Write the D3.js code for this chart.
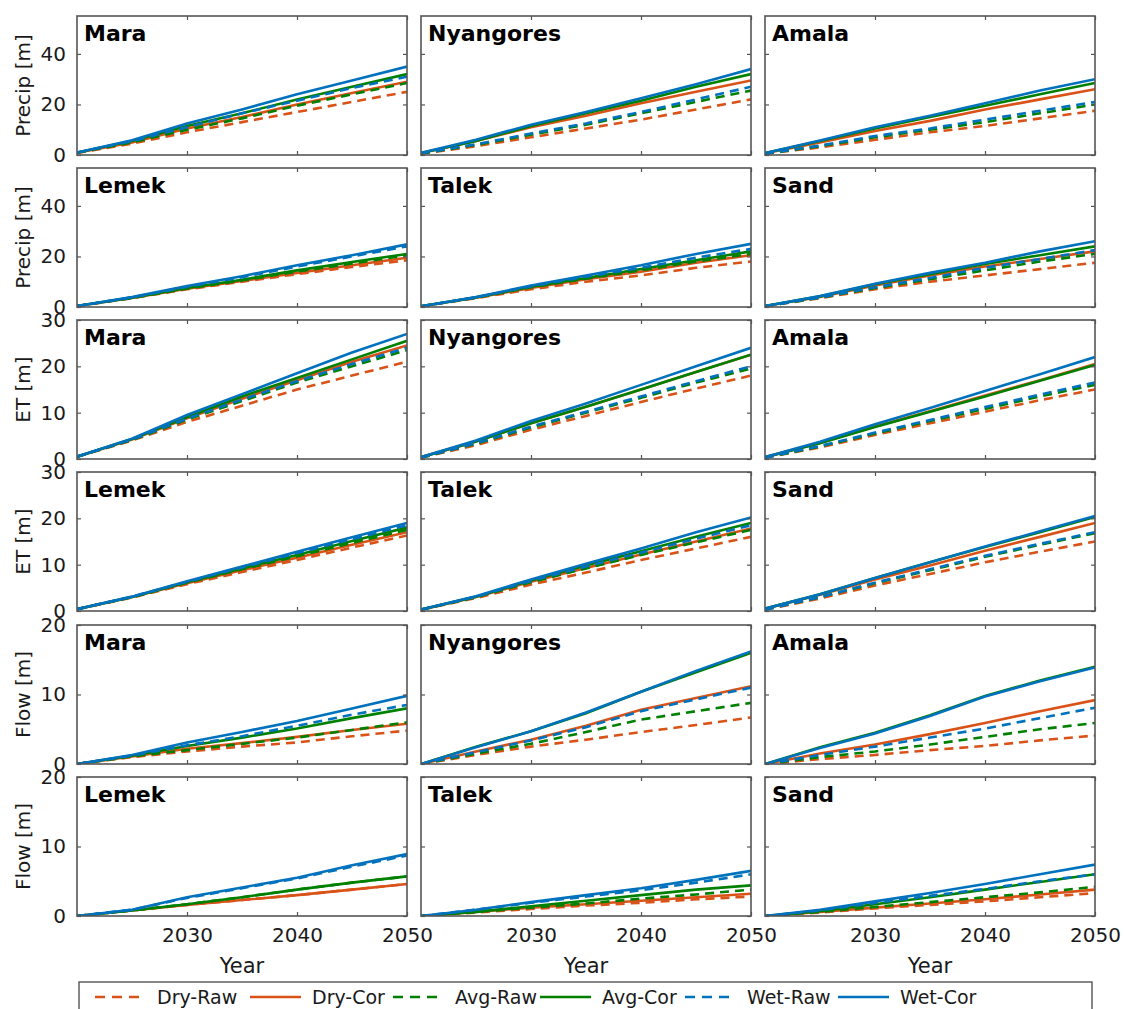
<!DOCTYPE html>
<html><head><meta charset="utf-8">
<script src="https://cdn.jsdelivr.net/npm/d3@7"></script>
<style>body{margin:0;background:#fff} text{font-family:"DejaVu Sans",sans-serif}</style>
</head><body><svg id="c" width="1124" height="1009"></svg>
<script>
// ---------- data ----------
const years = [2020, 2025, 2030, 2035, 2040, 2045, 2050];
const seriesNames = ["Dry-Raw", "Dry-Cor", "Avg-Raw", "Avg-Cor", "Wet-Raw", "Wet-Cor"];
const xTicks = [2030, 2040, 2050];
const precipTicks = [0, 20, 40];
const etTicks = [0, 10, 20, 30];
const flowTicks = [0, 10, 20];
const basinsTop = ["Mara", "Nyangores", "Amala"];
const basinsBottom = ["Lemek", "Talek", "Sand"];
const rowLabels = ["Precip [m]", "Precip [m]", "ET [m]", "ET [m]", "Flow [m]", "Flow [m]"];

// each panel: [Dry-Raw, Dry-Cor, Avg-Raw, Avg-Cor, Wet-Raw, Wet-Cor]
const precipMara = [
  [0.8, 4.5, 9, 13, 17, 21, 25],
  [0.9, 5, 10.5, 15, 20, 24.5, 29],
  [0.9, 5, 10, 14.5, 19.5, 24, 28.5],
  [1, 5.5, 11.5, 16.5, 22, 27, 32],
  [1, 5.5, 11, 16.5, 21.5, 26.5, 31],
  [1, 5.8, 12.5, 18, 24, 29.5, 35]];
const precipNyangores = [
  [0.5, 3.5, 7, 10.5, 14, 18, 22],
  [0.8, 5.5, 11, 15.5, 20.5, 25, 29.5],
  [0.6, 4, 8, 12, 16.5, 21, 25.5],
  [0.8, 5.5, 11.5, 16.5, 21.5, 27, 32],
  [0.7, 4.2, 8.5, 12.5, 17, 22, 27],
  [0.9, 6, 12, 17, 22.5, 28, 34]];
const precipAmala = [
  [0.5, 3, 6, 9, 11.5, 14.5, 17.5],
  [0.7, 5, 9.5, 13.5, 18, 22, 26],
  [0.5, 3.5, 7, 10, 13, 16.5, 20],
  [0.8, 5.5, 10.5, 15, 19.5, 24, 28.5],
  [0.6, 3.7, 7.5, 10.5, 14, 17.5, 21],
  [0.8, 5.7, 11, 15.5, 20.5, 25.5, 30]];
const precipLemek = [
  [0.4, 3.5, 7, 10, 13, 15.8, 18.5],
  [0.4, 3.6, 7.2, 10.3, 13.5, 16.5, 19.5],
  [0.4, 3.6, 7.3, 10.5, 14, 17.2, 20.5],
  [0.4, 3.7, 7.5, 10.8, 14.5, 17.8, 21],
  [0.4, 3.8, 8, 11.8, 16, 20, 24],
  [0.4, 3.9, 8.3, 12.2, 16.5, 20.5, 24.8]];
const precipTalek = [
  [0.3, 3.5, 7, 10, 12.5, 15.5, 18],
  [0.3, 3.7, 7.5, 11, 14, 17.5, 20.5],
  [0.3, 3.7, 7.8, 11.2, 14.5, 18, 21],
  [0.3, 3.8, 8, 11.5, 15, 18.5, 22],
  [0.3, 3.8, 8.2, 12, 15.5, 19.5, 23],
  [0.3, 3.9, 8.5, 12.5, 16.5, 21, 25]];
const precipSand = [
  [0.3, 3.5, 7, 10, 12.5, 15, 17.5],
  [0.4, 4, 8.5, 12.5, 16, 19, 22],
  [0.3, 3.7, 7.5, 11, 14.5, 18, 21],
  [0.4, 4.2, 9, 13, 17, 20.5, 24],
  [0.3, 3.8, 7.8, 11.5, 15.5, 19, 22.5],
  [0.4, 4.3, 9.2, 13.5, 17.5, 22, 26]];
const etMara = [
  [0.5, 4, 8, 11.5, 15, 18, 21],
  [0.5, 4.2, 8.8, 13, 17, 21, 24.5],
  [0.5, 4.1, 8.5, 12.5, 16.5, 20, 23.5],
  [0.5, 4.3, 9, 13.5, 17.5, 21.5, 25.5],
  [0.5, 4.2, 8.7, 12.8, 16.8, 20.5, 24],
  [0.5, 4.4, 9.5, 14, 18.5, 23, 27]];
const etNyangores = [
  [0.3, 3, 6.3, 9.3, 12.3, 15.2, 18],
  [0.4, 3.8, 7.7, 11.3, 15, 18.8, 22.5],
  [0.3, 3.3, 6.8, 10, 13.2, 16.5, 19.5],
  [0.4, 3.8, 7.7, 11.3, 15, 18.8, 22.5],
  [0.3, 3.4, 7, 10.2, 13.5, 16.8, 20],
  [0.4, 4, 8.2, 12, 16, 20, 24]];
const etAmala = [
  [0.3, 2.5, 5.2, 7.7, 10.2, 12.7, 15],
  [0.4, 3.5, 7, 10.3, 13.7, 17, 20.5],
  [0.3, 2.7, 5.5, 8.2, 10.8, 13.5, 16],
  [0.4, 3.4, 6.9, 10.2, 13.5, 16.9, 20.3],
  [0.3, 2.8, 5.7, 8.4, 11.2, 13.9, 16.5],
  [0.4, 3.7, 7.5, 11, 14.7, 18.3, 22]];
const etLemek = [
  [0.4, 2.9, 5.8, 8.4, 11, 13.7, 16.3],
  [0.4, 3, 6, 8.8, 11.5, 14.3, 17],
  [0.4, 3, 6.1, 9, 11.8, 14.7, 17.5],
  [0.4, 3, 6.2, 9.2, 12.1, 15.1, 18],
  [0.4, 3.1, 6.3, 9.4, 12.5, 15.5, 18.5],
  [0.4, 3.1, 6.4, 9.6, 12.8, 15.9, 19]];
const etTalek = [
  [0.3, 2.8, 5.7, 8.3, 11, 13.5, 16],
  [0.3, 3, 6.3, 9.3, 12.2, 15, 17.8],
  [0.3, 3, 6.2, 9.2, 12.1, 14.8, 17.5],
  [0.3, 3.1, 6.6, 9.8, 12.9, 16, 19],
  [0.3, 3.1, 6.5, 9.6, 12.6, 15.6, 18.5],
  [0.3, 3.2, 6.8, 10.2, 13.5, 17, 20.2]];
const etSand = [
  [0.3, 2.7, 5.5, 8, 10.5, 12.8, 15],
  [0.5, 3.5, 6.8, 9.8, 13, 16, 19],
  [0.3, 3, 6, 8.8, 11.7, 14.3, 16.8],
  [0.5, 3.6, 7.1, 10.5, 13.8, 17, 20.3],
  [0.3, 3, 6.1, 9, 11.9, 14.5, 17],
  [0.5, 3.6, 7.1, 10.5, 13.9, 17.2, 20.5]];
const flowMara = [
  [0, 1, 1.8, 2.5, 3.1, 4, 4.8],
  [0, 1.1, 2.2, 3, 3.9, 4.9, 5.8],
  [0, 1.1, 2, 2.9, 3.8, 4.9, 6],
  [0, 1.2, 2.6, 3.8, 5.1, 6.6, 8],
  [0, 1.2, 2.7, 4, 5.5, 7.1, 8.5],
  [0, 1.3, 3.1, 4.6, 6.2, 8, 9.8]];
const flowNyangores = [
  [0, 1.3, 2.5, 3.5, 4.6, 5.6, 6.7],
  [0, 1.8, 3.5, 5.5, 7.8, 9.5, 11.2],
  [0, 1.5, 2.9, 4.6, 6.4, 7.6, 8.8],
  [0, 2.5, 4.7, 7.3, 10.4, 13.2, 16],
  [0, 1.7, 3.4, 5.3, 7.6, 9.3, 11],
  [0, 2.4, 4.7, 7.4, 10.4, 13.4, 16.2]];
const flowAmala = [
  [0, 0.7, 1.3, 2, 2.6, 3.4, 4.1],
  [0, 1.5, 2.8, 4.3, 5.9, 7.6, 9.2],
  [0, 1, 1.8, 2.8, 3.9, 5, 5.9],
  [0, 2.4, 4.5, 7, 9.8, 12, 14],
  [0, 1.3, 2.5, 3.8, 5.1, 6.6, 8.1],
  [0, 2.3, 4.4, 6.9, 9.7, 11.9, 13.9]];
const flowLemek = [
  [0, 0.8, 1.6, 2.3, 3, 3.8, 4.6],
  [0, 0.8, 1.6, 2.3, 3, 3.8, 4.6],
  [0, 0.8, 1.7, 2.7, 3.8, 4.8, 5.7],
  [0, 0.8, 1.7, 2.7, 3.8, 4.8, 5.7],
  [0, 0.9, 2.6, 4, 5.4, 7.1, 8.7],
  [0, 0.9, 2.7, 4.1, 5.5, 7.3, 8.9]];
const flowTalek = [
  [0, 0.5, 1, 1.5, 1.9, 2.4, 2.8],
  [0, 0.6, 1.2, 1.7, 2.2, 2.7, 3.2],
  [0, 0.6, 1.2, 1.8, 2.5, 3.1, 3.8],
  [0, 0.6, 1.4, 2.2, 3, 3.8, 4.4],
  [0, 0.9, 1.9, 2.8, 3.7, 4.8, 6],
  [0, 0.9, 2, 3, 4, 5.2, 6.5]];
const flowSand = [
  [0, 0.5, 1.1, 1.6, 2.1, 2.7, 3.3],
  [0, 0.6, 1.2, 1.8, 2.4, 3.1, 3.8],
  [0, 0.6, 1.3, 2, 2.7, 3.4, 4.2],
  [0, 0.7, 1.7, 2.7, 3.8, 4.9, 6],
  [0, 0.8, 1.9, 2.9, 3.9, 5, 6],
  [0, 0.9, 2.1, 3.3, 4.6, 6, 7.4]];

// ---------- layout / style ----------
const colors = ["#D95319", "#D95319", "#008000", "#008000", "#0072BD", "#0072BD"];
const dashed = [true, false, true, false, true, false];
const colX = [77, 421, 765], panelW = 330;
const rowY = [16, 168, 320, 472, 625, 777], panelH = 139;
const boxColor = "#555";
const txtColor = "#1a1a1a";

const rows = [
  {panels: [precipMara, precipNyangores, precipAmala], names: basinsTop, max: 55, ticks: precipTicks},
  {panels: [precipLemek, precipTalek, precipSand], names: basinsBottom, max: 55, ticks: precipTicks},
  {panels: [etMara, etNyangores, etAmala], names: basinsTop, max: 30, ticks: etTicks},
  {panels: [etLemek, etTalek, etSand], names: basinsBottom, max: 30, ticks: etTicks},
  {panels: [flowMara, flowNyangores, flowAmala], names: basinsTop, max: 20, ticks: flowTicks},
  {panels: [flowLemek, flowTalek, flowSand], names: basinsBottom, max: 20, ticks: flowTicks}
];

const svg = d3.select("#c");
const defs = svg.append("defs");
defs.append("clipPath").attr("id", "clip").append("rect")
  .attr("x", 0).attr("y", 0).attr("width", panelW).attr("height", panelH);

rows.forEach((row, ri) => {
  const y = d3.scaleLinear().domain([0, row.max]).range([panelH, 0]);
  row.panels.forEach((panel, ci) => {
    const x = d3.scaleLinear().domain([2020, 2050]).range([0, panelW]);
    const g = svg.append("g").attr("transform", `translate(${colX[ci]},${rowY[ri]})`);
    const line = d3.line().x((d, i) => x(years[i])).y(d => y(d));
    const lg = g.append("g").attr("clip-path", "url(#clip)");
    panel.forEach((vals, si) => {
      lg.append("path").attr("d", line(vals)).attr("fill", "none")
        .attr("stroke", colors[si]).attr("stroke-width", 2.6)
        .attr("stroke-dasharray", dashed[si] ? "9,6" : null);
    });
    // axes with inward ticks
    const left = d3.axisLeft(y).tickValues(row.ticks).tickSizeInner(-4).tickSizeOuter(0).tickPadding(11);
    const right = d3.axisRight(y).tickValues(row.ticks).tickSizeInner(-4).tickSizeOuter(0).tickFormat("");
    const bottom = d3.axisBottom(x).tickValues(xTicks).tickSizeInner(-4).tickSizeOuter(0).tickPadding(12).tickFormat(d3.format("d"));
    const top = d3.axisTop(x).tickValues(xTicks).tickSizeInner(-4).tickSizeOuter(0).tickFormat("");
    const la = g.append("g").call(left);
    if (ci !== 0) la.selectAll("text").remove();
    g.append("g").attr("transform", `translate(${panelW},0)`).call(right).selectAll("text").remove();
    const ba = g.append("g").attr("transform", `translate(0,${panelH})`).call(bottom);
    if (ri !== rows.length - 1) ba.selectAll("text").remove();
    g.append("g").call(top).selectAll("text").remove();
    g.selectAll(".domain").remove();
    g.selectAll(".tick line").attr("stroke", boxColor).attr("stroke-width", 1.2);
    g.selectAll(".tick text").attr("fill", txtColor).style("font-size", "20px")
      .style("font-family", "'DejaVu Sans', sans-serif");
    g.append("rect").attr("x", 0).attr("y", 0).attr("width", panelW).attr("height", panelH)
      .attr("fill", "none").attr("stroke", boxColor).attr("stroke-width", 1.6);
    g.append("text").attr("x", 7).attr("y", 25).text(row.names[ci])
      .attr("fill", "#000").style("font-size", "22px").style("font-weight", "bold");
    if (ci === 0) {
      svg.append("text").attr("transform", `translate(30,${rowY[ri] + panelH / 2}) rotate(-90)`)
        .attr("text-anchor", "middle").attr("fill", txtColor).style("font-size", "20px")
        .text(rowLabels[ri]);
    }
    if (ri === rows.length - 1) {
      svg.append("text").attr("x", colX[ci] + panelW / 2).attr("y", 973)
        .attr("text-anchor", "middle").attr("fill", txtColor).style("font-size", "21px").text("Year");
    }
  });
});

// legend
const legX = [95, 250, 393, 540, 685, 838];
const lg = svg.append("g");
lg.append("rect").attr("x", 79).attr("y", 982).attr("width", 1013).attr("height", 40)
  .attr("fill", "#fff").attr("stroke", boxColor).attr("stroke-width", 1.4);
seriesNames.forEach((n, i) => {
  lg.append("line").attr("x1", legX[i]).attr("x2", legX[i] + 51).attr("y1", 997).attr("y2", 997)
    .attr("stroke", colors[i]).attr("stroke-width", 2.6)
    .attr("stroke-dasharray", dashed[i] ? "10,7" : null);
  lg.append("text").attr("x", legX[i] + 62).attr("y", 1004).attr("fill", txtColor)
    .style("font-size", "19px").text(n);
});
</script></body></html>
